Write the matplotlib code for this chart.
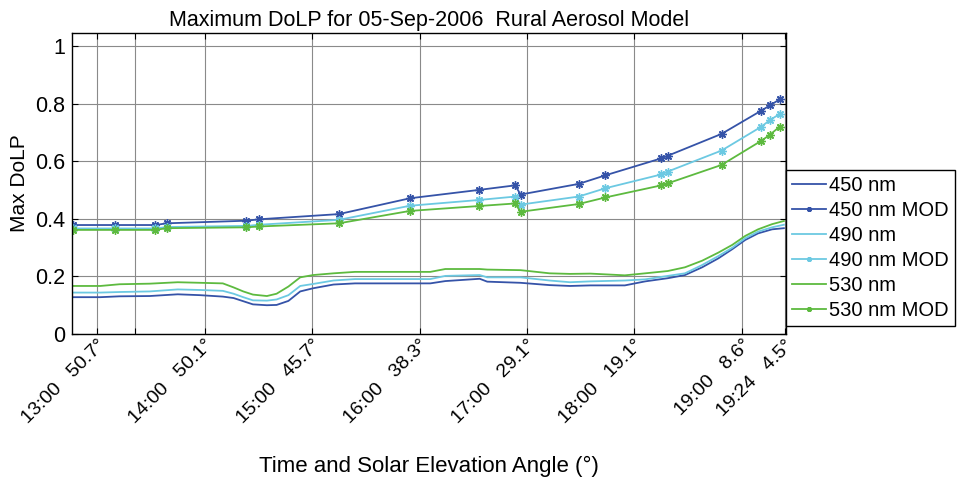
import numpy as np
import matplotlib
matplotlib.use("Agg")
import matplotlib.pyplot as plt

plt.rcParams['font.family'] = ['Liberation Sans', 'DejaVu Sans']

# time in decimal hours (local)
t_cont = [12.78, 13.03, 13.21, 13.49, 13.75, 13.96, 14.17, 14.27, 14.36, 14.45,
          14.58, 14.67, 14.78, 14.89, 15.01, 15.20, 15.40, 15.82, 16.10, 16.24,
          16.56, 16.63, 16.94, 17.21, 17.40, 17.59, 17.91, 18.10, 18.31, 18.47,
          18.63, 18.78, 18.91, 19.03, 19.15, 19.28, 19.39]
dolp_450 = [0.128, 0.128, 0.131, 0.132, 0.138, 0.135, 0.130, 0.125, 0.114, 0.103,
            0.100, 0.101, 0.115, 0.148, 0.159, 0.172, 0.176, 0.176, 0.176, 0.184,
            0.192, 0.182, 0.178, 0.170, 0.167, 0.169, 0.169, 0.183, 0.194, 0.205,
            0.232, 0.263, 0.295, 0.327, 0.350, 0.364, 0.368]
dolp_490 = [0.144, 0.144, 0.146, 0.148, 0.155, 0.153, 0.150, 0.140, 0.128, 0.117,
            0.116, 0.120, 0.135, 0.167, 0.174, 0.186, 0.191, 0.191, 0.191, 0.202,
            0.205, 0.197, 0.197, 0.186, 0.180, 0.183, 0.186, 0.190, 0.202, 0.211,
            0.240, 0.271, 0.300, 0.333, 0.356, 0.371, 0.380]
dolp_530 = [0.167, 0.167, 0.173, 0.175, 0.180, 0.178, 0.176, 0.162, 0.148, 0.137,
            0.132, 0.140, 0.165, 0.197, 0.205, 0.211, 0.216, 0.216, 0.216, 0.226,
            0.226, 0.224, 0.222, 0.211, 0.209, 0.210, 0.204, 0.211, 0.219, 0.232,
            0.255, 0.283, 0.310, 0.341, 0.364, 0.382, 0.393]

t_mod = [12.78, 13.17, 13.54, 13.65, 14.39, 14.51, 15.25, 15.91, 16.55, 16.89,
         16.94, 17.48, 17.73, 18.25, 18.31, 18.81, 19.18, 19.26, 19.35]
mod_450 = [0.379, 0.379, 0.379, 0.385, 0.394, 0.399, 0.417, 0.472, 0.501, 0.517,
           0.485, 0.522, 0.552, 0.611, 0.620, 0.696, 0.777, 0.795, 0.816]
mod_490 = [0.367, 0.367, 0.367, 0.372, 0.376, 0.380, 0.397, 0.446, 0.466, 0.478,
           0.450, 0.478, 0.507, 0.555, 0.565, 0.638, 0.721, 0.744, 0.765]
mod_530 = [0.362, 0.362, 0.362, 0.368, 0.371, 0.374, 0.385, 0.428, 0.445, 0.454,
           0.425, 0.452, 0.475, 0.517, 0.524, 0.588, 0.672, 0.693, 0.721]

tick_hours = [13.0, 13.35, 14.0, 15.0, 16.0, 17.0, 18.0, 19.0, 19.4]
tick_times = ['13:00', '', '14:00', '15:00', '16:00', '17:00', '18:00', '19:00', '19:24']
tick_angles = ['50.7', '', '50.1', '45.7', '38.3', '29.1', '19.1', '8.6', '4.5']

c450 = '#3553a8'
c490 = '#6cc9e2'
c530 = '#5dba3f'

fig = plt.figure(figsize=(9.58, 4.78), dpi=100)
ax = fig.add_axes([0.0752, 0.3013, 0.7453, 0.6297])

# matlab style '*' marker: 8-armed asterisk
mk = dict(marker=(8, 2, 0), ms=6, mew=1.0)
ax.plot(t_cont, dolp_450, color=c450, lw=1.3, label='450 nm')
ax.plot(t_mod, mod_450, color=c450, lw=1.3, label='450 nm MOD', **mk)
ax.plot(t_cont, dolp_490, color=c490, lw=1.3, label='490 nm')
ax.plot(t_mod, mod_490, color=c490, lw=1.3, label='490 nm MOD', **mk)
ax.plot(t_cont, dolp_530, color=c530, lw=1.3, label='530 nm')
ax.plot(t_mod, mod_530, color=c530, lw=1.3, label='530 nm MOD', **mk)

ax.set_xlim(12.767, 19.41)
ax.set_ylim(0, 1.047)

labels = []
for tm, ang in zip(tick_times, tick_angles):
    if tm == '':
        labels.append('')
    else:
        labels.append(f'{tm}   {ang}\u00b0')
ax.set_xticks(tick_hours)
ax.set_xticklabels(labels, rotation=45, ha='right', va='top', rotation_mode='anchor')
ax.set_yticks([0, 0.2, 0.4, 0.6, 0.8, 1.0])
ax.set_yticklabels(['0', '0.2', '0.4', '0.6', '0.8', '1'])

ax.tick_params(direction='in', top=True, right=True, length=4, width=0.8)
ax.tick_params(axis='y', labelsize=15.5, pad=5)
ax.tick_params(axis='x', labelsize=14, pad=2)
ax.grid(True, color='#8a8a8a', lw=0.8)
for sp in ax.spines.values():
    sp.set_linewidth(1.0)

ax.set_title('Maximum DoLP for 05-Sep-2006  Rural Aerosol Model', fontsize=15.5, pad=5)
ax.set_ylabel('Max DoLP', fontsize=15, labelpad=4)
ax.set_xlabel('Time and Solar Elevation Angle (\u00b0)', fontsize=16)
ax.xaxis.set_label_coords(0.5, -0.405)

leg = ax.legend(loc='upper left', bbox_to_anchor=(1.0, 0.545), borderaxespad=0,
                fontsize=14.5, handlelength=1.7, handletextpad=0.15, labelspacing=0.3,
                borderpad=0.3, fancybox=False, framealpha=1, edgecolor='black',
                markerscale=0.6)
leg.get_frame().set_linewidth(1.0)

fig.savefig('out.png', dpi=100)
